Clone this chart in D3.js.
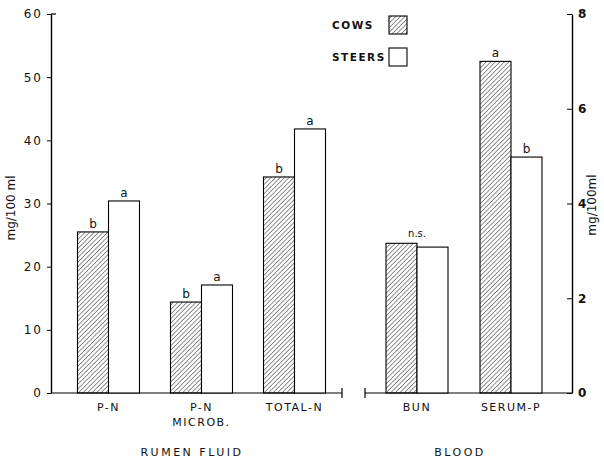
<!DOCTYPE html>
<html>
<head>
	<style>
	body {
		margin: 0;
		background: #fff;
	}
	text {
		font-family: "DejaVu Sans", sans-serif;
		fill: #111;
	}
	</style>
</head>
<body>
	<script src="https://d3js.org/d3.v7.min.js"></script>
	<script>
	var width = 604, height = 462;

	// data
	var rumenCats = ["P-N", "P-N MICROB.", "TOTAL-N"];
	var rumenCows = [25.5, 14.4, 34.2];
	var rumenSteers = [30.4, 17.1, 41.8];
	var rumenSigCows = ["b", "b", "b"];
	var rumenSigSteers = ["a", "a", "a"];

	var bloodCats = ["BUN", "SERUM-P"];
	var bloodCows = [3.16, 7.0];
	var bloodSteers = [3.08, 4.98];
	var bloodSigCows = ["", "a"];
	var bloodSigSteers = ["", "b"];
	var bloodSigPair = ["n.s.", ""];

	var leftTicks = [0, 10, 20, 30, 40, 50, 60];
	var rightTicks = [0, 2, 4, 6, 8];

	var svg = d3.select("body").append("svg")
		.attr("width", width)
		.attr("height", height);

	// hatch pattern for cows
	svg.append("defs").append("pattern")
		.attr("id", "hatch")
		.attr("patternUnits", "userSpaceOnUse")
		.attr("width", 3.2)
		.attr("height", 3.2)
		.attr("patternTransform", "rotate(45)")
		.append("line")
			.attr("x1", 0).attr("y1", 0)
			.attr("x2", 0).attr("y2", 3.2)
			.style("stroke", "#222")
			.style("stroke-width", 1);

	var x0 = 51, x1 = 572, yTop = 14, yBase = 393;

	var yL = d3.scaleLinear().domain([0, 60]).range([yBase, yTop]);
	var yR = d3.scaleLinear().domain([0, 8]).range([yBase, yTop]);

	var xRumen = d3.scaleBand().domain(rumenCats).range([62, 341]);
	var xBlood = d3.scaleBand().domain(bloodCats).range([370, 558]);
	var barW = 31;

	// axes
	var gl = svg.append("g")
		.attr("transform", "translate(" + x0 + ",0)")
		.call(d3.axisLeft(yL).tickValues(leftTicks).tickSize(4).tickSizeOuter(0).tickPadding(4));
	gl.select(".domain").style("stroke-width", 1.4);
	gl.selectAll("text").style("font-size", "12px").style("letter-spacing", "2px");

	var gr = svg.append("g")
		.attr("transform", "translate(" + x1 + ",0)")
		.call(d3.axisRight(yR).tickValues(rightTicks).tickSize(-5).tickSizeOuter(0).tickPadding(6));
	gr.select(".domain").style("stroke-width", 1.4);
	gr.selectAll("text").style("font-size", "12px").style("font-weight", "bold");

	// small hook at top of left axis
	svg.append("line")
		.attr("x1", x0).attr("x2", x0 + 5)
		.attr("y1", yL(60)).attr("y2", yL(60))
		.style("stroke", "#000").style("stroke-width", 1.2);

	// baseline with break
	var brk = [342, 365];
	svg.append("line").attr("x1", x0).attr("x2", brk[0]).attr("y1", yBase).attr("y2", yBase)
		.style("stroke", "#000").style("stroke-width", 1.2);
	svg.append("line").attr("x1", brk[1]).attr("x2", x1).attr("y1", yBase).attr("y2", yBase)
		.style("stroke", "#000").style("stroke-width", 1.2);
	brk.forEach(function(b){
		svg.append("line").attr("x1", b).attr("x2", b).attr("y1", yBase - 5).attr("y2", yBase + 5)
			.style("stroke", "#000").style("stroke-width", 1.2);
	});

	function drawGroup(cats, xs, ys, cows, steers, sigC, sigS){
		var g = svg.append("g");
		cats.forEach(function(c, i){
			var cx = xs(c) + xs.bandwidth() / 2;
			g.append("rect")
				.attr("x", cx - barW).attr("y", ys(cows[i]))
				.attr("width", barW).attr("height", yBase - ys(cows[i]))
				.style("fill", "url(#hatch)").style("stroke", "#000").style("stroke-width", 1.1);
			g.append("rect")
				.attr("x", cx).attr("y", ys(steers[i]))
				.attr("width", barW).attr("height", yBase - ys(steers[i]))
				.style("fill", "#fff").style("stroke", "#000").style("stroke-width", 1.1);
			g.append("text")
				.attr("x", cx - barW / 2).attr("y", ys(cows[i]) - 4)
				.attr("text-anchor", "middle").style("font-size", "12px")
				.text(sigC[i]);
			g.append("text")
				.attr("x", cx + barW / 2).attr("y", ys(steers[i]) - 4)
				.attr("text-anchor", "middle").style("font-size", "12px")
				.text(sigS[i]);
		});
	}

	drawGroup(rumenCats, xRumen, yL, rumenCows, rumenSteers, rumenSigCows, rumenSigSteers);
	drawGroup(bloodCats, xBlood, yR, bloodCows, bloodSteers, bloodSigCows, bloodSigSteers);

	bloodCats.forEach(function(c, i){
		if (!bloodSigPair[i]) return;
		svg.append("text")
			.attr("x", xBlood(c) + xBlood.bandwidth() / 2)
			.attr("y", yR(Math.max(bloodCows[i], bloodSteers[i])) - 6)
			.attr("text-anchor", "middle").style("font-size", "10px")
			.text(bloodSigPair[i]);
	});

	// category labels
	function catLabels(cats, xs){
		cats.forEach(function(c){
			var parts = c === "P-N MICROB." ? ["P-N", "MICROB."] : [c];
			parts.forEach(function(p, j){
				svg.append("text")
					.attr("x", xs(c) + xs.bandwidth() / 2)
					.attr("y", 411 + j * 15)
					.attr("text-anchor", "middle")
					.style("font-size", "11px").style("letter-spacing", "1.5px")
					.text(p);
			});
		});
	}
	catLabels(rumenCats, xRumen);
	catLabels(bloodCats, xBlood);

	svg.append("text").attr("x", 192).attr("y", 456).attr("text-anchor", "middle")
		.style("font-size", "11px").style("letter-spacing", "2.5px").text("RUMEN FLUID");
	svg.append("text").attr("x", 460).attr("y", 456).attr("text-anchor", "middle")
		.style("font-size", "11px").style("letter-spacing", "2.5px").text("BLOOD");

	// axis titles
	svg.append("text")
		.attr("transform", "translate(15,208) rotate(-90)")
		.attr("text-anchor", "middle").style("font-size", "12px")
		.text("mg/100 ml");
	svg.append("text")
		.attr("transform", "translate(596,205) rotate(-90)")
		.attr("text-anchor", "middle").style("font-size", "12px")
		.text("mg/100ml");

	// legend
	var legend = [{name: "COWS", fill: "url(#hatch)", y: 16}, {name: "STEERS", fill: "#fff", y: 48}];
	legend.forEach(function(d){
		svg.append("rect").attr("x", 389).attr("y", d.y).attr("width", 18).attr("height", 18)
			.style("fill", d.fill).style("stroke", "#000").style("stroke-width", 1.1);
		svg.append("text").attr("x", 332).attr("y", d.y + 13)
			.style("font-size", "10.5px").style("font-weight", "bold").style("letter-spacing", "1.5px")
			.text(d.name);
	});
	</script>
</body>
</html>
